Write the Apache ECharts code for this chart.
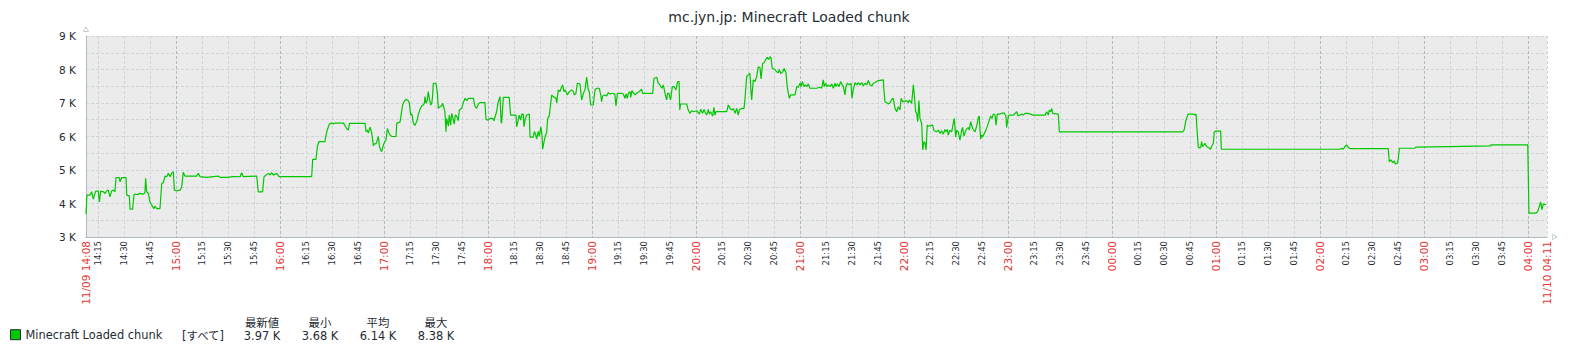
<!DOCTYPE html>
<html><head><meta charset="utf-8">
<script src="https://cdn.jsdelivr.net/npm/echarts@6/dist/echarts.min.js"></script>
<style>html,body{margin:0;padding:0;background:#fff}#c{width:1578px;height:354px}</style>
</head><body><div id="c"></div>
<script>
const chartTitle = 'mc.jyn.jp: Minecraft Loaded chunk';
const seriesName = 'Minecraft Loaded chunk';
const startLabel = '11/09 14:08';
const endLabel = '11/10 04:11';
const quarterLabels = [
  '14:15','14:30','14:45','15:00','15:15','15:30','15:45','16:00','16:15','16:30','16:45','17:00',
  '17:15','17:30','17:45','18:00','18:15','18:30','18:45','19:00','19:15','19:30','19:45','20:00',
  '20:15','20:30','20:45','21:00','21:15','21:30','21:45','22:00','22:15','22:30','22:45','23:00',
  '23:15','23:30','23:45','00:00','00:15','00:30','00:45','01:00','01:15','01:30','01:45','02:00',
  '02:15','02:30','02:45','03:00','03:15','03:30','03:45','04:00'
];
const yTickValues = [3000, 4000, 5000, 6000, 7000, 8000, 9000];
const legendScope = '[すべて]';
const legendHeaders = ['最新値', '最小', '平均', '最大'];
const legendValues = ['3.97 K', '3.68 K', '6.14 K', '8.38 K'];

// minutes after 11/09 14:08
const minutesFromStart = [].concat(
  [0,0.5,2.3,3.3,4.2,5.6,7.1,7.7,8.5,10,11,11.9,12.9,13.8,14.8,15.8,16.7,17.3,19.2,19.6,20.6,23.1,23.5,25,25.4,26.9,27.7,30.2,30.8,33.1,34,34.4,35,36,36.9,37.9,38.5,39.2,39.8,40.8,42.7,43.7,44.6,45.6,46.6,47.5,48.5,49.4,50.4,51,52.3,54.2,55.2,56.1,57.1,63.9,64.8,65.8,69.6,76.3,77.3,81.2,85,88.9,89.8,90.8,98.5,99.4,101.9,102.7,105.2,106.2,107.1,108.1,110,111.4,130.2,130.8,132.7,133.5],
  [134.4,137.9,138.5,139.2,140.4,141.8,142.7,143.7,145.6,148.5,149.4,150.4,151.4,152,161,161.6,162.3,162.9,163.9,164.8,165.4,165.8,166.2,167.3,168.1,168.7,169.3,170,170.6,171.6,172.5,173.1,173.9,174.4,175.4,176.4,178.9,179.3,181.2,181.8,182.7,183.5,184.6,186,186.6,187.3,188.1,188.9,189.8,190.4,191.2,191.8,192.7,193.7,194.6,195.2,195.6,196.2,196.9,197.5,198.1,198.9,199.5,200,200.4,201.9,202.7,203.3,204.3,205.2,205.8,206.6,207.1,207.7,208.1,209.1,209.6,210.4,211,211.9,212.5,213.1,213.9,214.8,215.4,216.8,217.7,218.7,219.7,220.6,223.5,224.5,225.4,226.4,227.3,230.2,230.8,232.1,233.1,234.6,235.4,236.9,237.9,238.9,239.5,239.8,240.8,244.2,245,248.1,248.5,249.5,250,250.8,251.4,252.3,252.7,253.5,254.3,255.8,256.2,258.1,258.7,259.5,260,261,261.6,262.4,263.1,263.5,264.3,265,265.8,266.4,267.3],
  [268.7,269.6,271.2,271.6,271.9,272.5,273.5,274.1,275,275.8,276.4,277.4,277.7,278.9,280.2,281.2,281.8,282.7,283.5,285,285.6,286,287,287.9,288.9,289.8,290.4,291.2,292.7,293.7,294.7,296.2,297,297.5,298.1,299.5,300.4,301.4,302.3,304.3,305.2,305.8,306.6,309.1,310,311,311.6,312.3,312.9,313.9,314.3,315,315.8,316.8,317.7,319.3,320.6,321.2,327,327.7,329.3,330.2,331.2,332.2,333.1,334.1,335,335.6,336.4,337.3,338.3,339.3,339.9,340.4,341.4,342.2,342.6,343.1,346.6,347.5,348.5,349.5,350.4,352.4,353.9,354.7,355.8,356.6,357.3,358.1,359.1,359.6,360.4,361.6,362.3,362.9,363.5,369.7,370.6,371.6,372.6,373.5,374.5,375.4,376.4,376.9,378.3,379.7,380.2,381.2,382.2,383.1,383.7,384.1,385,386,387,387.9,388.9,389.5,390.4,391.2,392.2,393.1,393.9,394.7,395.2,396,397.5,398.5,399.5,400,400.9,402,402.8,403.9,404.7,405.8,406.6],
  [409.1,410.1,411,412,412.6,413.3,414.3,414.9,415.8,416.8,417.7,421.6,423.5,424.5,425.4,426,426.8,427.4,428.3,429.3,430.3,431.2,432.2,432.7,433.5,434.5,435.4,436,437,437.9,438.5,439.3,440.4,441.4,442,442.7,443.7,444.7,445.6,446.6,447.6,448.5,449.5,450.5,451.4,452.4,453.4,454.3,455.3,456.2,457.2,460.1,460.4,461,462,462.9,463.9,464.9,465.8,466.8,467.8,468.7,469.7,470.3,471.2,473.5,474.5,475.1,476.4,477.4,478,478.7,479.3,479.9,480.6,481.2,482.2,482.8,483.5,484.1,484.7,485.4,486,488.5,489.3,490.8,491.8,492.8,493.7,494.7,495.6,496.2,497,497.5,498.5,499.5,500.4,501,501.8,502.4,503.3,504.3,505.3,505.8,506.6,507.7,509.1,509.7,510.4,511.6,512.4,513,513.9,514.9,515.4,516.2,516.8,517.4,518.1,519.3,520.1,521.2,522,522.8,523.5,524.5,525.1,525.8,527.4,528.3,529.7,530.8,531.2,532.2,533.1,535.1,537,537.9,539.9,540.8,541.8,543.7],
  [546.6,550.5,553.4,554.3,555.3,555.8,556.6,557.2,557.8,561,561.6,632.8,633.6,634.7,636,638.9,639.9,640.5,641.2,641.8,643.2,643.7,644.3,645.1,645.6,646.6,648.2,648.9,649.5,650.5,651,652,654.7,655.1,723.5,724.5,725.4,726.4,727.4,728.3,729.3,751.4,752,753,754,754.9,755.5,756.7,757.2,757.8,766.8,767.2,786.1,810.1,811.1,831.9,832.6,836.7,837.6,838.5,839.3,840.1,840.8,842.4]
);
// loaded chunks, in thousands
const loadedChunksK = [].concat(
  [3.68,4.25,4.25,4.35,4.13,4.37,4.37,4.05,4.37,4.35,4.30,4.37,4.40,4.20,4.37,4.40,4.35,4.77,4.77,4.65,4.77,4.77,4.25,4.23,3.83,3.83,4.27,4.27,4.30,4.28,4.32,4.75,4.35,4.30,4.05,3.95,3.90,3.85,3.92,3.85,3.85,4.60,4.62,4.82,4.80,4.90,4.80,4.90,4.95,4.40,4.38,4.40,4.48,4.93,4.82,4.82,4.90,4.80,4.78,4.82,4.78,4.78,4.80,4.80,4.92,4.80,4.82,4.35,4.35,4.80,4.90,4.85,4.92,4.85,4.90,4.80,4.80,5.32,5.32,5.70],
  [5.85,5.85,6.05,6.19,6.37,6.40,6.37,6.40,6.40,6.40,6.33,6.24,6.19,6.39,6.39,6.15,6.19,6.10,6.28,6.12,5.90,5.72,5.78,5.78,5.90,6.00,5.70,5.60,5.55,5.75,5.85,5.90,6.24,6.15,6.05,6.00,6.00,6.40,6.43,6.64,6.94,7.04,7.11,7.07,6.99,6.64,6.67,6.40,6.33,6.40,6.50,6.67,6.81,6.91,6.94,6.99,7.19,6.99,7.07,7.34,7.14,6.94,6.99,7.21,7.59,7.59,7.34,6.84,6.89,6.91,6.99,6.84,6.74,6.14,6.54,6.31,6.64,6.34,6.69,6.51,6.37,6.64,6.61,6.47,6.79,6.84,7.01,7.14,7.07,7.14,7.14,6.89,6.84,6.97,7.01,7.01,6.51,6.49,6.54,6.54,6.47,6.74,7.04,7.19,6.44,6.39,7.17,7.17,6.64,6.64,6.29,6.51,6.64,6.49,6.67,6.67,6.29,6.54,6.64,6.67,5.98,5.98,6.15,6.05,5.92,6.15,6.00,6.29,6.05,5.62,5.85,6.02,6.12,6.54,6.61],
  [7.24,7.19,7.14,7.00,7.14,7.39,7.34,7.44,7.54,7.34,7.39,7.29,7.24,7.34,7.39,7.34,7.24,7.29,7.59,7.57,7.29,7.09,7.29,7.39,7.77,7.39,7.34,6.94,6.94,7.39,7.44,7.44,7.24,7.04,7.21,7.24,7.21,7.31,7.27,7.29,7.24,6.91,7.29,7.29,7.27,7.14,7.27,7.14,7.29,7.34,7.17,7.37,7.31,7.24,7.29,7.34,7.41,7.29,7.29,7.74,7.77,7.59,7.54,7.44,7.54,7.29,7.09,7.29,7.29,7.09,7.49,7.49,7.44,7.39,7.64,7.64,6.79,6.97,6.97,6.79,6.69,6.77,6.74,6.77,6.67,6.81,6.69,6.81,6.71,6.64,6.81,6.67,6.74,6.61,6.87,6.64,6.74,6.74,6.94,6.84,6.79,6.84,6.69,6.84,6.64,6.79,6.84,6.84,7.09,7.79,7.84,7.89,7.34,7.09,7.69,7.64,7.79,8.08,8.05,7.72,8.18,8.20,8.30,8.36,8.30,8.38,8.36,8.03,8.00,7.93,7.90,8.00,7.88,7.93,8.03,7.90,7.45,7.14,7.24],
  [7.24,7.49,7.47,7.59,7.49,7.64,7.49,7.54,7.49,7.57,7.44,7.44,7.47,7.44,7.69,7.49,7.59,7.49,7.54,7.49,7.57,7.44,7.59,7.49,7.57,7.49,7.64,7.57,7.49,7.24,7.49,7.59,7.54,7.59,7.14,7.39,7.61,7.54,7.61,7.54,7.61,7.51,7.59,7.54,7.67,7.54,7.51,7.59,7.61,7.64,7.67,7.69,7.39,7.04,7.01,6.97,7.01,7.11,7.14,6.84,6.74,6.89,6.79,7.14,7.04,7.07,7.01,7.09,6.99,7.54,7.19,6.74,6.69,6.44,7.07,6.54,6.39,5.60,5.85,5.80,5.60,6.34,6.31,6.34,6.17,6.14,6.19,6.09,6.17,6.07,6.21,6.14,6.21,6.04,6.19,6.14,6.39,6.54,5.99,6.19,6.14,5.89,6.19,6.27,6.01,6.19,6.27,6.19,6.44,6.24,6.17,6.14,6.31,6.57,6.61,5.92,6.04,5.99,6.07,6.19,6.31,6.49,6.61,6.54,6.67,6.64,6.34,6.67,6.67,6.69,6.71,6.61,6.27,6.61,6.64,6.64,6.74,6.61,6.67,6.64,6.69,6.69],
  [6.64,6.64,6.64,6.74,6.64,6.79,6.74,6.84,6.69,6.67,6.14,6.14,6.19,6.49,6.67,6.67,6.64,6.67,6.09,5.67,5.67,5.85,5.70,5.75,5.80,5.70,5.65,5.62,5.70,5.80,6.14,6.16,6.16,5.62,5.62,5.65,5.62,5.70,5.75,5.68,5.64,5.64,5.25,5.30,5.22,5.27,5.18,5.20,5.35,5.65,5.65,5.68,5.70,5.72,5.75,5.75,3.71,3.71,3.76,3.90,4.05,3.82,3.98,3.97]
);
if (minutesFromStart.length !== loadedChunksK.length) {
  throw new Error('length mismatch ' + minutesFromStart.length + ' vs ' + loadedChunksK.length);
}

const FONT = '"DejaVu Sans", "Noto Sans CJK JP", sans-serif';
const TEXT = '#1F2C33';
const RED = '#E33734';
const GRID_LIGHT = '#CCD5D9';
const GRID_MAIN = '#ACBBC2';
const LINE_GREEN = '#00C800';

function hm(label) { const p = label.split(':'); return (+p[0]) * 60 + (+p[1]); }
const xMin = hm(startLabel.split(' ')[1]);
let xMax = hm(endLabel.split(' ')[1]); if (xMax < xMin) xMax += 1440;
function toAxis(label) { let v = hm(label); if (v < xMin) v += 1440; return v; }
const quarterValues = quarterLabels.map(toAxis);
const labelByValue = {};
quarterLabels.forEach((l, i) => { labelByValue[quarterValues[i]] = l; });

const seriesData = minutesFromStart.map((m, i) => [xMin + m, loadedChunksK[i] * 1000]);

const hollowArrow = 'path://M5,0 L10,9 L0,9 Z M5,2.6 L1.7,8 L8.3,8 Z';

const chart = echarts.init(document.getElementById('c'), null, { renderer: 'svg' });
chart.setOption({
  animation: false,
  backgroundColor: '#FFFFFF',
  title: {
    text: chartTitle, left: 'center', top: 10, padding: 0,
    textStyle: { fontFamily: FONT, fontSize: 14, fontWeight: 'normal', color: TEXT }
  },
  grid: { left: 86, top: 36, width: 1461, height: 201, show: true, backgroundColor: '#EBEBEB', borderWidth: 0 },
  xAxis: {
    type: 'value', min: xMin, max: xMax,
    axisLine: { show: true, onZero: false, lineStyle: { color: GRID_MAIN, width: 1 },
      symbol: ['none', hollowArrow], symbolSize: [6, 6], symbolOffset: [0, 8] },
    axisTick: { show: false, customValues: quarterValues.concat([xMax]) },
    splitLine: { show: true, lineStyle: { color: [GRID_LIGHT, GRID_LIGHT, GRID_LIGHT, GRID_MAIN], type: [3, 2], width: 1 } },
    axisLabel: {
      customValues: [xMin].concat(quarterValues, [xMax]),
      rotate: 90, margin: 4, fontFamily: FONT,
      formatter: function (v) {
        if (v === xMin) return '{h|' + startLabel + '}';
        if (v === xMax) return '{h|' + endLabel + '}';
        const l = labelByValue[v];
        if (!l) return '';
        return l.endsWith(':00') ? '{h|' + l + '}' : '{q|' + l + '}';
      },
      rich: {
        h: { color: RED, fontSize: 10.5, fontFamily: FONT },
        q: { color: TEXT, fontSize: 8.5, fontFamily: FONT }
      }
    }
  },
  yAxis: {
    type: 'value', min: yTickValues[0], max: yTickValues[yTickValues.length - 1], interval: 1000,
    axisLine: { show: true, lineStyle: { color: GRID_MAIN, width: 1 },
      symbol: ['none', hollowArrow], symbolSize: [6, 6], symbolOffset: [0, 7] },
    axisTick: { show: false },
    axisLabel: { formatter: v => (v / 1000) + ' K', color: TEXT, fontSize: 10.5, fontFamily: FONT, margin: 10 },
    splitLine: { show: true, lineStyle: { color: GRID_LIGHT, type: [3, 2], width: 1 } },
    minorTick: { show: false, splitNumber: 2 },
    minorSplitLine: { show: true, lineStyle: { color: GRID_LIGHT, type: [3, 2], width: 1 } }
  },
  legend: {
    data: [{ name: seriesName, icon: 'rect' }],
    left: 10, top: 329, padding: 0, itemWidth: 10, itemHeight: 10, itemGap: 5,
    itemStyle: { borderColor: TEXT, borderWidth: 1 },
    textStyle: { fontFamily: FONT, fontSize: 11.4, color: TEXT }
  },
  graphic: [
    { type: 'text', x: 203, y: 336, style: { text: legendScope, align: 'center', verticalAlign: 'middle', font: '11.4px ' + FONT, fill: TEXT } }
  ].concat(
    legendHeaders.map((h, i) => ({ type: 'text', x: 262 + i * 58, y: 323, style: { text: h, align: 'center', verticalAlign: 'middle', font: '11.4px ' + FONT, fill: TEXT } })),
    legendValues.map((v, i) => ({ type: 'text', x: 262 + i * 58, y: 336, style: { text: v, align: 'center', verticalAlign: 'middle', font: '11.4px ' + FONT, fill: TEXT } }))
  ),
  series: [{
    name: seriesName, type: 'line', data: seriesData, showSymbol: false, symbol: 'none',
    color: LINE_GREEN, lineStyle: { color: LINE_GREEN, width: 1.2 }, itemStyle: { color: LINE_GREEN },
    emphasis: { disabled: true }
  }]
});
</script></body></html>
